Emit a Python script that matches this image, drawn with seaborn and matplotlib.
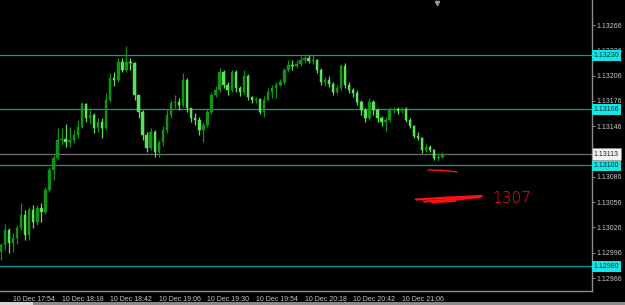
import matplotlib
matplotlib.use("Agg")
import matplotlib.pyplot as plt
import matplotlib.dates as mdates
import matplotlib.transforms as mtransforms
from matplotlib.patches import Rectangle
import seaborn as sns
import pandas as pd
import numpy as np

# ---------------- data (EURUSD-like 2-minute bars, 10 Dec) ----------------
bar_start = "2018-12-10 17:48"
bar_freq = "2min"

opens = [1.12997, 1.13005, 1.13023, 1.13008, 1.13013, 1.13025, 1.13041, 1.13017, 1.13047, 1.13032,
         1.13049, 1.13044, 1.13070, 1.13094, 1.13108, 1.13130, 1.13131, 1.13127, 1.13130, 1.13136,
         1.13145, 1.13172, 1.13156, 1.13159, 1.13144, 1.13151, 1.13144, 1.13177, 1.13203, 1.13201,
         1.13222, 1.13213, 1.13222, 1.13221, 1.13183, 1.13163, 1.13136, 1.13120, 1.13139, 1.13115,
         1.13127, 1.13142, 1.13159, 1.13174, 1.13175, 1.13171, 1.13201, 1.13168, 1.13156, 1.13153,
         1.13142, 1.13148, 1.13163, 1.13183, 1.13189, 1.13210, 1.13195, 1.13189, 1.13210, 1.13191,
         1.13187, 1.13206, 1.13181, 1.13177, 1.13178, 1.13163, 1.13177, 1.13187, 1.13191, 1.13195,
         1.13198, 1.13213, 1.13219, 1.13217, 1.13220, 1.13225, 1.13227, 1.13223, 1.13225, 1.13213,
         1.13198, 1.13201, 1.13196, 1.13187, 1.13191, 1.13217, 1.13195, 1.13189, 1.13185, 1.13175,
         1.13165, 1.13156, 1.13175, 1.13165, 1.13156, 1.13151, 1.13153, 1.13165, 1.13166, 1.13164,
         1.13166, 1.13153, 1.13146, 1.13134, 1.13132, 1.13118, 1.13121, 1.13118, 1.13108, 1.13110]

closes = [1.13005, 1.13023, 1.13008, 1.13013, 1.13025, 1.13041, 1.13017, 1.13047, 1.13032, 1.13049,
          1.13044, 1.13070, 1.13094, 1.13108, 1.13130, 1.13131, 1.13127, 1.13130, 1.13136, 1.13145,
          1.13172, 1.13156, 1.13159, 1.13144, 1.13151, 1.13144, 1.13177, 1.13203, 1.13201, 1.13222,
          1.13213, 1.13222, 1.13221, 1.13183, 1.13163, 1.13136, 1.13120, 1.13139, 1.13115, 1.13127,
          1.13142, 1.13159, 1.13174, 1.13175, 1.13171, 1.13201, 1.13168, 1.13156, 1.13153, 1.13142,
          1.13148, 1.13163, 1.13183, 1.13189, 1.13210, 1.13195, 1.13189, 1.13210, 1.13191, 1.13187,
          1.13206, 1.13181, 1.13177, 1.13178, 1.13163, 1.13177, 1.13187, 1.13191, 1.13195, 1.13198,
          1.13213, 1.13219, 1.13217, 1.13220, 1.13225, 1.13227, 1.13223, 1.13225, 1.13213, 1.13198,
          1.13201, 1.13196, 1.13187, 1.13191, 1.13217, 1.13195, 1.13189, 1.13185, 1.13175, 1.13165,
          1.13156, 1.13175, 1.13165, 1.13156, 1.13151, 1.13153, 1.13165, 1.13166, 1.13164, 1.13166,
          1.13153, 1.13146, 1.13134, 1.13132, 1.13118, 1.13121, 1.13118, 1.13108, 1.13110, 1.13113]

highs = [1.13008, 1.13030, 1.13025, 1.13019, 1.13029, 1.13055, 1.13047, 1.13050, 1.13053, 1.13053,
         1.13055, 1.13074, 1.13098, 1.13112, 1.13144, 1.13144, 1.13149, 1.13145, 1.13142, 1.13153,
         1.13175, 1.13173, 1.13168, 1.13162, 1.13156, 1.13156, 1.13185, 1.13209, 1.13210, 1.13227,
         1.13227, 1.13241, 1.13227, 1.13222, 1.13183, 1.13165, 1.13139, 1.13144, 1.13142, 1.13130,
         1.13146, 1.13165, 1.13177, 1.13183, 1.13180, 1.13209, 1.13203, 1.13168, 1.13162, 1.13157,
         1.13151, 1.13168, 1.13187, 1.13194, 1.13215, 1.13213, 1.13198, 1.13213, 1.13213, 1.13194,
         1.13213, 1.13208, 1.13182, 1.13181, 1.13180, 1.13182, 1.13191, 1.13195, 1.13198, 1.13202,
         1.13215, 1.13225, 1.13225, 1.13225, 1.13229, 1.13231, 1.13231, 1.13231, 1.13226, 1.13215,
         1.13204, 1.13206, 1.13198, 1.13195, 1.13220, 1.13221, 1.13198, 1.13191, 1.13189, 1.13177,
         1.13168, 1.13180, 1.13177, 1.13168, 1.13158, 1.13157, 1.13169, 1.13169, 1.13169, 1.13169,
         1.13169, 1.13156, 1.13148, 1.13139, 1.13133, 1.13125, 1.13124, 1.13119, 1.13113, 1.13115]

lows = [1.12987, 1.12999, 1.12996, 1.12997, 1.13006, 1.13023, 1.13011, 1.13011, 1.13025, 1.13029,
        1.13032, 1.13042, 1.13068, 1.13082, 1.13106, 1.13124, 1.13121, 1.13121, 1.13126, 1.13132,
        1.13144, 1.13151, 1.13149, 1.13138, 1.13139, 1.13132, 1.13142, 1.13175, 1.13194, 1.13198,
        1.13210, 1.13210, 1.13213, 1.13177, 1.13156, 1.13130, 1.13115, 1.13118, 1.13110, 1.13110,
        1.13123, 1.13138, 1.13156, 1.13168, 1.13165, 1.13169, 1.13163, 1.13151, 1.13148, 1.13136,
        1.13127, 1.13145, 1.13161, 1.13181, 1.13187, 1.13191, 1.13183, 1.13187, 1.13187, 1.13182,
        1.13184, 1.13177, 1.13174, 1.13174, 1.13161, 1.13157, 1.13177, 1.13180, 1.13180, 1.13194,
        1.13196, 1.13210, 1.13213, 1.13215, 1.13217, 1.13221, 1.13221, 1.13220, 1.13209, 1.13195,
        1.13194, 1.13192, 1.13183, 1.13184, 1.13189, 1.13191, 1.13185, 1.13181, 1.13171, 1.13159,
        1.13151, 1.13153, 1.13159, 1.13151, 1.13146, 1.13140, 1.13151, 1.13162, 1.13160, 1.13162,
        1.13151, 1.13144, 1.13132, 1.13130, 1.13114, 1.13115, 1.13115, 1.13106, 1.13105, 1.13108]

level_lines = [1.13230, 1.13166, 1.13100, 1.12980]
bid_price = 1.13113
ytick_values = [1.13266, 1.13236, 1.13206, 1.13176, 1.13146,
                1.13086, 1.13056, 1.13026, 1.12996, 1.12966]
xtick_times = ["2018-12-10 17:30", "2018-12-10 17:54", "2018-12-10 18:18",
               "2018-12-10 18:42", "2018-12-10 19:06", "2018-12-10 19:30",
               "2018-12-10 19:54", "2018-12-10 20:18", "2018-12-10 20:42",
               "2018-12-10 21:06"]
note_text = "1307"

# ---------------- style ----------------
sns.set_style("dark", {"axes.facecolor": "black", "figure.facecolor": "black"})
plt.rcParams["font.family"] = ["Liberation Sans", "DejaVu Sans"]

BG = "black"
AXIS_GRAY = "#8c8c8c"
TXT = "#c8c8c8"
TEAL = "#129a9a"
CYAN_BOX = "#14e6e6"
UP = "#139313"
DOWN = "#5ae25a"

W, H = 625, 305
fig = plt.figure(figsize=(W / 100, H / 100), dpi=100, facecolor=BG)
ax = fig.add_axes([0, 14 / H, 592 / W, 291 / H])
ax.set_facecolor(BG)

df = pd.DataFrame({
    "time": pd.date_range(bar_start, periods=len(opens), freq=bar_freq),
    "open": opens, "high": highs, "low": lows, "close": closes,
})
x = mdates.date2num(df["time"])
minute = 1.0 / 1440.0
up = df["close"] >= df["open"]
colors = np.where(up, UP, DOWN)

# level lines
for lv in level_lines:
    ax.axhline(lv, color=TEAL, lw=0.9, zorder=1)
ax.axhline(bid_price, color="#707070", lw=0.9, zorder=1)

# wicks and bodies
ax.vlines(x, df["low"], df["high"], colors=colors, lw=0.9, zorder=2)
body_low = np.minimum(df["open"], df["close"])
body_h = np.maximum(np.abs(df["close"] - df["open"]), 0.000012)
ax.bar(x, body_h, bottom=body_low, width=1.2 * minute, color=colors,
       edgecolor=colors, linewidth=0.3, zorder=3)

# spines
for s in ["left", "top"]:
    ax.spines[s].set_visible(False)
for s in ["right", "bottom"]:
    ax.spines[s].set_visible(True)
    ax.spines[s].set_color(AXIS_GRAY)
    ax.spines[s].set_linewidth(1.0)
ax.grid(False)

# y ticks on right
ax.yaxis.tick_right()
ax.set_yticks(ytick_values)
ax.set_yticklabels([f"{v:.5f}" for v in ytick_values])
ax.tick_params(axis="y", direction="out", length=2, width=0.7, color=AXIS_GRAY,
               labelsize=5, labelcolor=TXT, pad=1.5)

# x ticks
xt = mdates.date2num(pd.to_datetime(xtick_times))
ax.set_xticks(xt)
ax.set_xticklabels([pd.Timestamp(t).strftime("%d %b %H:%M").lstrip("0") for t in xtick_times])
ax.tick_params(axis="x", direction="out", length=2, width=0.7, color=AXIS_GRAY,
               labelsize=5, labelcolor=TXT, pad=1.5)
for lbl in ax.get_xticklabels():
    lbl.set_horizontalalignment("left")

# axes limits (pixel-matched) -- after ticks so they are not expanded
t0 = mdates.date2num(pd.Timestamp("2018-12-10 17:54"))
ax.set_xlim(t0 - 6.42 * minute, t0 + 285.9 * minute)
ax.set_ylim(1.129506, 1.132957)

# price boxes on the right axis
trans = mtransforms.blended_transform_factory(ax.transAxes, ax.transData)
for lv in level_lines:
    ax.text(1.003, lv, f"{lv:.5f}", transform=trans, ha="left", va="center",
            fontsize=5, color="#0a2a2a", zorder=10, clip_on=False,
            bbox=dict(boxstyle="square,pad=0.3", fc=CYAN_BOX, ec="none"))
ax.text(1.003, bid_price, f"{bid_price:.5f}", transform=trans, ha="left", va="center",
        fontsize=5, color="#202020", zorder=10, clip_on=False,
        bbox=dict(boxstyle="square,pad=0.3", fc="#f2f2f2", ec="#909090", lw=0.5))

# helper: pixel -> axes fraction
def px(xp, yp):
    return xp / 592.0, 1 - yp / 291.0

# shift marker triangle at top
mx, my = px(437, 2.5)
ax.plot([mx], [my], marker="v", ms=3, color="#9a9a9a", transform=ax.transAxes,
        clip_on=False, zorder=10)

# red hand-drawn annotation
def stroke(points, lw):
    xs, ys = zip(*[px(a, b) for a, b in points])
    ax.plot(xs, ys, color="#ff1010", lw=lw, transform=ax.transAxes,
            solid_capstyle="round", zorder=11)

stroke([(428, 170), (445, 170.5), (457, 172)], 1.0)
stroke([(416, 199.5), (450, 197.5), (482, 196)], 1.6)
stroke([(424, 201.5), (458, 199.5), (476, 197)], 1.6)
stroke([(432, 202.5), (455, 201)], 1.4)
stroke([(440, 198), (480, 197.3)], 1.4)
tx, ty = px(512, 198.5)
ax.text(tx, ty, note_text, transform=ax.transAxes, ha="center", va="center",
        fontsize=11, color="#ff1010", fontweight="light", zorder=11,
        family=["DejaVu Sans"])

# bottom gray strip
fig.patches.append(Rectangle((0, 0), 1, 3 / H, transform=fig.transFigure,
                             fc="#8a8a8a", ec="none", zorder=0))
fig.patches.append(Rectangle((0, 0), 33 / W, 3 / H, transform=fig.transFigure,
                             fc="#d6d6d6", ec="none", zorder=0))

fig.savefig("out.png", dpi=100, facecolor=BG)
